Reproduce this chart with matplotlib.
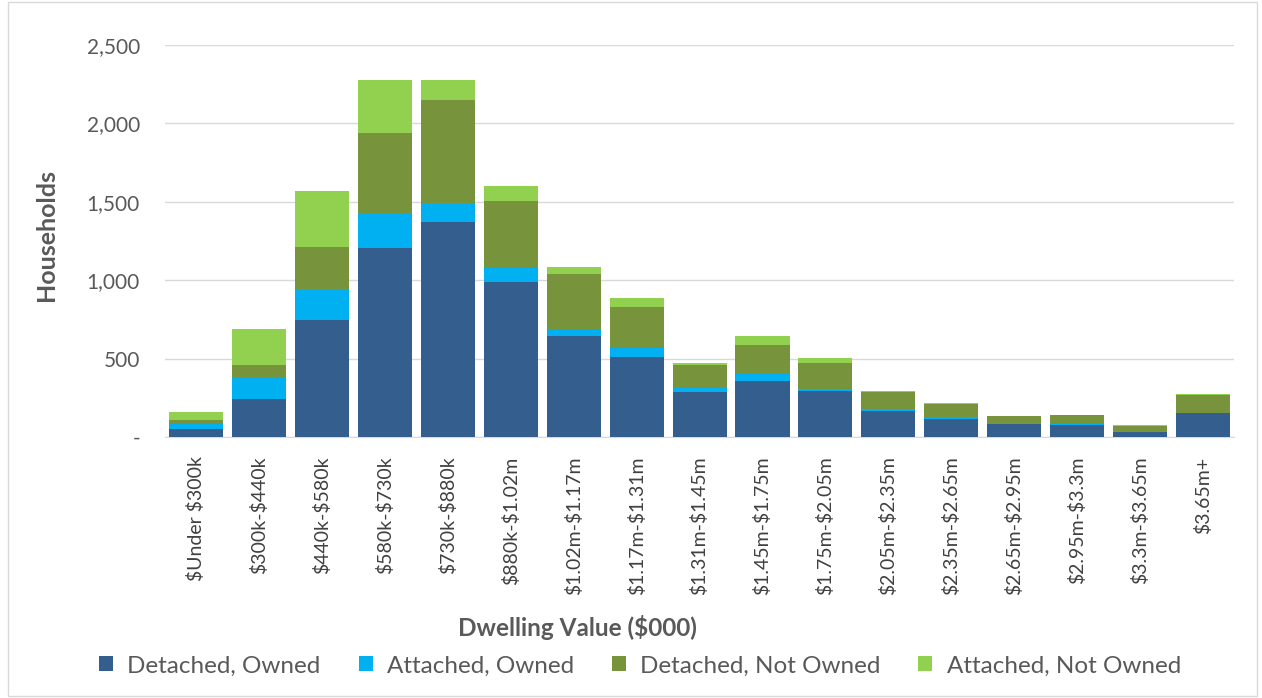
import numpy as np
import matplotlib.pyplot as plt

categories = ['$Under $300k', '$300k-$440k', '$440k-$580k', '$580k-$730k', '$730k-$880k',
              '$880k-$1.02m', '$1.02m-$1.17m', '$1.17m-$1.31m', '$1.31m-$1.45m',
              '$1.45m-$1.75m', '$1.75m-$2.05m', '$2.05m-$2.35m', '$2.35m-$2.65m',
              '$2.65m-$2.95m', '$2.95m-$3.3m', '$3.3m-$3.65m', '$3.65m+']
detached_owned = [49, 240, 747, 1204, 1372, 989, 644, 509, 289, 360, 291, 165, 112, 82, 79, 34, 152]
attached_owned = [36, 143, 198, 226, 119, 88, 39, 56, 23, 40, 15, 13, 8, 6, 3, 2, 3]
detached_not_owned = [21, 77, 266, 510, 656, 427, 359, 263, 148, 184, 167, 111, 90, 43, 57, 35, 115]
attached_not_owned = [51, 227, 359, 339, 132, 98, 45, 60, 13, 60, 30, 6, 5, 4, 3, 4, 5]

series = [('Detached, Owned', detached_owned, '#345E8E'),
          ('Attached, Owned', attached_owned, '#00B0F0'),
          ('Detached, Not Owned', detached_not_owned, '#77933C'),
          ('Attached, Not Owned', attached_not_owned, '#92D050')]

plt.rcParams['font.family'] = ['Lato', 'DejaVu Sans']
plt.rcParams['text.parse_math'] = False

fig = plt.figure(figsize=(12.62, 6.98), dpi=100)
ax = fig.add_axes([0.1307, 0.374, 0.8473, 0.5615])

x = np.arange(len(categories))
bottom = np.zeros(len(categories))
for label, vals, color in series:
    ax.bar(x, vals, bottom=bottom, width=0.86, color=color, label=label, zorder=3)
    bottom += np.array(vals)

ax.set_xlim(-0.5, len(categories) - 0.5)
ax.set_ylim(0, 2500)
ax.set_yticks([0, 500, 1000, 1500, 2000, 2500])
ax.set_yticklabels(['-', '500', '1,000', '1,500', '2,000', '2,500'], fontsize=15, color='#595959')
ax.set_xticks(x)
ax.set_xticklabels(categories, rotation=90, fontsize=14, color='#404040')
ax.tick_params(axis='y', length=0, pad=18)
ax.tick_params(axis='x', length=0, pad=14)
ax.grid(axis='y', color='#D9D9D9', linewidth=1, zorder=0)
for s in ['top', 'right', 'left']:
    ax.spines[s].set_visible(False)
ax.spines['bottom'].set_color('#D9D9D9')

fig.text(46 / 1262, 1 - 235 / 698, 'Households', rotation=90, ha='center', va='center',
         fontsize=18, fontweight='bold', color='#595959')
fig.text(577 / 1262, 1 - 628 / 698, 'Dwelling Value ($000)', ha='center', va='center',
         fontsize=17.5, fontweight='bold', color='#595959')

handles, labels = ax.get_legend_handles_labels()
fig.legend(handles, labels, loc='center', bbox_to_anchor=(640 / 1262, 1 - 666 / 698), ncol=4,
           frameon=False, fontsize=17.5, handlelength=0.58, handleheight=0.58,
           handletextpad=0.58, columnspacing=1.56, labelcolor='#595959', borderpad=0)

fig.patches.append(plt.Rectangle((0.006, 0.003), 0.99, 0.994, transform=fig.transFigure,
                                 fill=False, edgecolor='#D9D9D9', linewidth=1))

fig.savefig('out.png', dpi=100)
